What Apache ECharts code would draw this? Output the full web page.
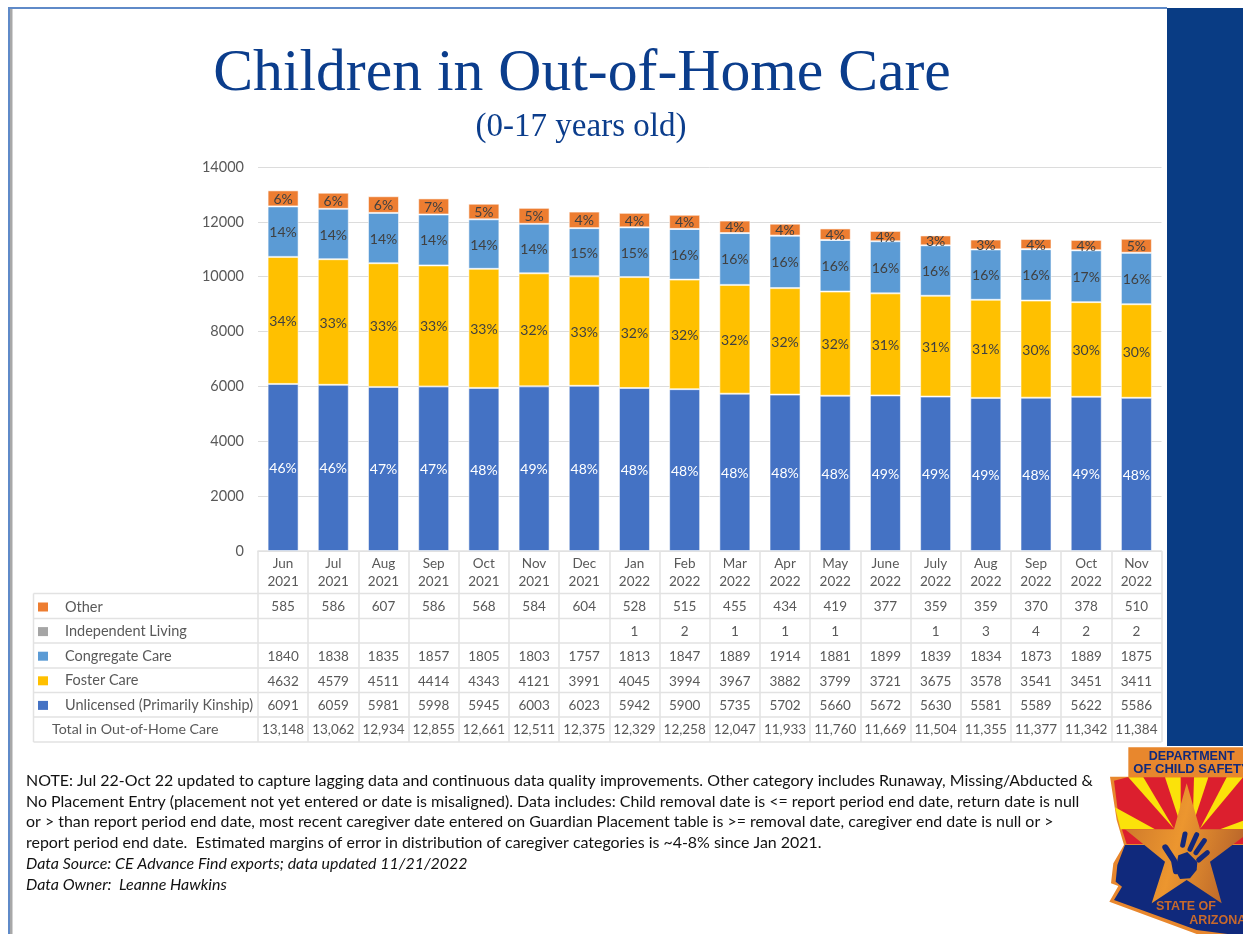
<!DOCTYPE html>
<html>
<head>
<meta charset="utf-8">
<title>Children in Out-of-Home Care</title>
<style>html,body{margin:0;padding:0;background:#fff}#chart{width:1243px;height:934px}</style>
<script src="https://cdn.jsdelivr.net/npm/echarts@6/dist/echarts.min.js"></script>
</head>
<body>
<div id="chart"></div>
<script>
// Monthly caseload by caregiver type
const categories = ['Jun\n2021','Jul\n2021','Aug\n2021','Sep\n2021','Oct\n2021','Nov\n2021','Dec\n2021','Jan\n2022','Feb\n2022','Mar\n2022','Apr\n2022','May\n2022','June\n2022','July\n2022','Aug\n2022','Sep\n2022','Oct\n2022','Nov\n2022'];
const other = [585,586,607,586,568,584,604,528,515,455,434,419,377,359,359,370,378,510];
const independentLiving = [null,null,null,null,null,null,null,1,2,1,1,1,null,1,3,4,2,2];
const congregateCare = [1840,1838,1835,1857,1805,1803,1757,1813,1847,1889,1914,1881,1899,1839,1834,1873,1889,1875];
const fosterCare = [4632,4579,4511,4414,4343,4121,3991,4045,3994,3967,3882,3799,3721,3675,3578,3541,3451,3411];
const unlicensed = [6091,6059,5981,5998,5945,6003,6023,5942,5900,5735,5702,5660,5672,5630,5581,5589,5622,5586];
const totals = [13148,13062,12934,12855,12661,12511,12375,12329,12258,12047,11933,11760,11669,11504,11355,11377,11342,11384];

// Published percentage labels for each segment
const otherPct = [6,6,6,7,5,5,4,4,4,4,4,4,4,3,3,4,4,5];
const congregatePct = [14,14,14,14,14,14,15,15,16,16,16,16,16,16,16,16,17,16];
const fosterPct = [34,33,33,33,33,32,33,32,32,32,32,32,31,31,31,30,30,30];
const unlicensedPct = [46,46,47,47,48,49,48,48,48,48,48,48,49,49,49,48,49,48];

const yTicks = {min: 0, max: 14000, interval: 2000};

const noteLines = [
  ['NOTE: Jul 22-Oct 22 updated to capture lagging data and continuous data quality improvements. Other category includes Runaway, Missing/Abducted &', false],
  ['No Placement Entry (placement not yet entered or date is misaligned). Data includes: Child removal date is <= report period end date, return date is null', false],
  ['or > than report period end date, most recent caregiver date entered on Guardian Placement table is >= removal date, caregiver end date is null or >', false],
  ['report period end date.  Estimated margins of error in distribution of caregiver categories is ~4-8% since Jan 2021.', false],
  ['Data Source: CE Advance Find exports; data updated 11/21/2022', true],
  ['Data Owner:  Leanne Hawkins', true]
];

const BODY_FONT = 'Lato';
const INK = '#595959';
const RULE = '#e2e2e2';
const PLOT = {left: 258, right: 1161.5, top: 167, bottom: 551};
const ROW_Y = [593.5, 618.5, 643, 668, 692.5, 717, 742];
const TABLE_LEFT = 33.5;

function barSeries(name, values, color, pct, labelColor) {
  return {
    name, type: 'bar', stack: 'care', barWidth: 31, data: values,
    itemStyle: {color, borderColor: 'rgba(255,255,255,0.55)', borderWidth: 1},
    label: pct ? {
      show: true, position: 'inside', offset: [0, 1], color: labelColor, fontFamily: BODY_FONT, fontSize: 14,
      formatter: p => pct[p.dataIndex] + '%'
    } : {show: false}
  };
}

// A table row is one more category axis hung below the plot
function rowAxis(cells, rowIndex) {
  const nudge = rowIndex < 5 ? 1 : 0;
  return {
    type: 'category', position: 'bottom', gridIndex: 0, data: cells,
    offset: (ROW_Y[rowIndex] + ROW_Y[rowIndex + 1]) / 2 - PLOT.bottom + nudge,
    axisLine: {show: false}, axisTick: {show: false}, splitLine: {show: false},
    axisLabel: {interval: 0, margin: 0, hideOverlap: false, color: INK, fontFamily: BODY_FONT, fontSize: 13.5, verticalAlign: 'middle'}
  };
}
const cellText = arr => arr.map(v => v == null ? '' : String(v));

const rows = [other, independentLiving, congregateCare, fosterCare, unlicensed].map(cellText);
rows.push(totals.map(v => v.toLocaleString('en-US')));

// State seal, drawn in a local 3x grid anchored beside the notes
const sx = x => 1050 + x / 3;
const sy = y => 730 + y / 3;
const pts = list => list.map(([x, y]) => [sx(x), sy(y)]);
const poly = (list, fill, z) => ({type: 'polygon', silent: true, z: z || 20, shape: {points: pts(list)}, style: {fill}});
const stroke = (list, width) => ({type: 'polyline', silent: true, z: 24, shape: {points: pts(list)}, style: {stroke: '#13297c', lineWidth: width, fill: 'none', lineCap: 'round', lineJoin: 'round'}});

const SEAL_ORANGE = '#e8872d';
const SEAL_NAVY = '#10297c';
const SEAL_RED = '#dc1f2e';
const SEAL_YELLOW = '#fbe20a';
const sealParts = [
  poly([[235,52],[640,52],[640,640],[440,612],[178,515],[205,468],[183,460],[190,400],[222,345],[200,270],[180,140],[235,140]], SEAL_ORANGE),
  poly([[192,152],[232,142],[640,142],[640,342],[230,342],[207,270]], SEAL_RED, 21),
  poly([[195,232],[212,298],[315,298]], SEAL_YELLOW, 22),
  poly([[235,142],[280,142],[372,296]], SEAL_YELLOW, 22),
  poly([[345,142],[392,142],[392,285]], SEAL_YELLOW, 22),
  poly([[432,142],[475,142],[428,285]], SEAL_YELLOW, 22),
  poly([[530,142],[579,142],[450,296]], SEAL_YELLOW, 22),
  poly([[640,250],[640,298],[510,298]], SEAL_YELLOW, 22),
  poly([[225,345],[640,345],[640,626],[440,600],[192,510],[216,470],[197,455],[202,405]], SEAL_NAVY, 22),
  {type: 'polygon', silent: true, z: 23, shape: {points: pts([[410,160],[450,298],[610,298],[480,395],[515,520],[410,450],[305,520],[345,395],[225,298],[372,298]])},
   style: {fill: {type: 'linear', x: 0, y: 0, x2: 1, y2: 0.3, colorStops: [{offset: 0, color: '#c9742a'}, {offset: 0.5, color: '#ec962f'}, {offset: 1, color: '#b8642a'}]}}},
  stroke([[405,312],[398,346]], 5),
  stroke([[440,314],[420,358]], 5),
  stroke([[463,332],[438,368]], 5),
  stroke([[472,368],[446,390]], 5),
  stroke([[346,352],[372,392],[378,424]], 6),
  poly([[385,376],[412,366],[442,396],[440,420],[420,445],[390,447],[376,420]], SEAL_NAVY, 24),
  stroke([[395,378],[415,378],[432,398]], 1),
  {type: 'text', silent: true, z: 25, style: {x: sx(296), y: sy(80), text: 'DEPARTMENT', fill: SEAL_NAVY, font: 'bold 12.5px "Liberation Sans"', verticalAlign: 'middle'}},
  {type: 'text', silent: true, z: 25, style: {x: sx(250), y: sy(117), text: 'OF CHILD SAFETY', fill: SEAL_NAVY, font: 'bold 13px "Liberation Sans"', verticalAlign: 'middle'}},
  {type: 'text', silent: true, z: 25, style: {x: sx(318), y: sy(531), text: 'STATE OF', fill: '#c8692c', font: 'bold 12.5px "Liberation Sans"', verticalAlign: 'middle'}},
  {type: 'text', silent: true, z: 25, style: {x: sx(418), y: sy(573), text: 'ARIZONA', fill: '#c8692c', font: 'bold 12.5px "Liberation Sans"', verticalAlign: 'middle'}}
];

const block = (x, y, width, height, fill, z) => ({type: 'rect', silent: true, z: z || 1, shape: {x, y, width, height}, style: {fill}});

const frameParts = [
  block(1167, 8, 76, 738, '#093c84'),
  block(8, 7, 1159, 2, '#5f8ac8'),
  block(8, 7, 2, 927, '#5f8ac8'),
  block(10, 9, 2.5, 925, '#a8a8a8')
];

// Horizontal table rules; column rules come from the axis ticks
const tableRules = ROW_Y.map(y => ({
  type: 'line', silent: true, z: 2,
  shape: {x1: TABLE_LEFT, y1: y, x2: PLOT.right, y2: y},
  style: {stroke: RULE, lineWidth: 1.5}
}));
tableRules.push({type: 'line', silent: true, z: 2, shape: {x1: TABLE_LEFT, y1: ROW_Y[0], x2: TABLE_LEFT, y2: ROW_Y[6]}, style: {stroke: RULE, lineWidth: 1.5}});

const totalLabel = {type: 'text', silent: true, z: 5, style: {
  x: 52, y: (ROW_Y[5] + ROW_Y[6]) / 2, text: 'Total in Out-of-Home Care',
  fill: INK, font: '14.2px ' + BODY_FONT, verticalAlign: 'middle'
}};

const noteParts = noteLines.map(([text, italic], i) => ({
  type: 'text', silent: true, z: 5,
  style: {x: 26, y: 780.5 + i * 20.9, text, fill: '#111', font: (italic ? 'italic ' : '') + '15.95px ' + BODY_FONT, verticalAlign: 'middle'}
}));

const chart = echarts.init(document.getElementById('chart'), null, {renderer: 'canvas'});
chart.setOption({
  backgroundColor: '#fff',
  animation: false,
  title: [
    {text: 'Children in Out-of-Home Care', left: 577, top: 39, textAlign: 'center',
     textStyle: {color: '#0b3d8c', fontFamily: 'Liberation Serif', fontSize: 59.7, fontWeight: 'normal'}},
    {text: '(0-17 years old)', left: 576, top: 106, textAlign: 'center',
     textStyle: {color: '#0b3d8c', fontFamily: 'Liberation Serif', fontSize: 33, fontWeight: 'normal'}}
  ],
  grid: {left: PLOT.left, right: 1243 - PLOT.right, top: PLOT.top, bottom: 934 - PLOT.bottom},
  legend: {
    orient: 'vertical', left: 33, top: 594, icon: 'rect', itemWidth: 10, itemHeight: 9, itemGap: 8.6, selectedMode: false,
    data: ['Other', 'Independent Living', 'Congregate Care', 'Foster Care', 'Unlicensed (Primarily Kinship)'],
    itemStyle: {borderWidth: 0},
    textStyle: {color: INK, fontFamily: BODY_FONT, fontSize: 14.5, padding: [0, 0, 0, 12], height: 16, lineHeight: 16}
  },
  xAxis: [
    {
      type: 'category', position: 'bottom', data: categories,
      axisLine: {lineStyle: {color: RULE, width: 1.5}},
      axisTick: {show: true, length: ROW_Y[6] - PLOT.bottom, lineStyle: {color: RULE, width: 1.5}},
      axisLabel: {interval: 0, margin: 4, color: INK, fontFamily: BODY_FONT, fontSize: 13.5, lineHeight: 18}
    }
  ].concat(rows.map(rowAxis)),
  yAxis: {
    type: 'value', min: yTicks.min, max: yTicks.max, interval: yTicks.interval,
    axisLine: {show: false}, axisTick: {show: false},
    axisLabel: {margin: 14, color: INK, fontFamily: BODY_FONT, fontSize: 14.5, formatter: v => String(v)},
    splitLine: {lineStyle: {color: '#dcdcdc', width: 1}}
  },
  series: [
    barSeries('Unlicensed (Primarily Kinship)', unlicensed, '#4472c4', unlicensedPct, '#fff'),
    barSeries('Foster Care', fosterCare, '#ffc000', fosterPct, '#404040'),
    barSeries('Congregate Care', congregateCare, '#5b9bd5', congregatePct, '#404040'),
    barSeries('Independent Living', independentLiving, '#a5a5a5', null),
    barSeries('Other', other, '#ed7d31', otherPct, '#404040')
  ],
  graphic: {elements: [...frameParts, ...tableRules, totalLabel, ...noteParts, ...sealParts]}
});
</script>
</body>
</html>
